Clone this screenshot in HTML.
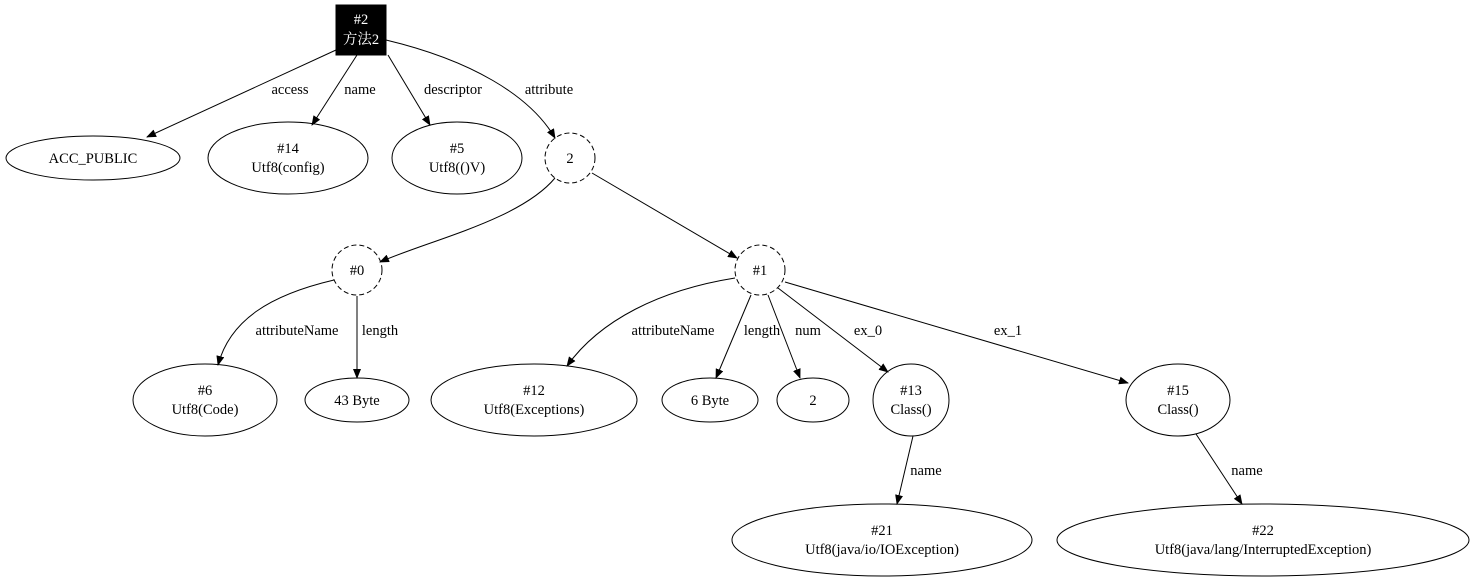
<!DOCTYPE html>
<html><head><meta charset="utf-8"><style>
html,body{margin:0;padding:0;background:#fff;}
svg text{font-family:"Liberation Serif","Noto Serif CJK SC",serif;font-size:14.5px;fill:#000;}
</style></head><body>
<svg width="1473" height="582" viewBox="0 0 1473 582" xmlns="http://www.w3.org/2000/svg">
<defs><marker id="a" markerWidth="10" markerHeight="8" refX="9" refY="4" orient="auto" markerUnits="userSpaceOnUse"><path d="M0,0 L10,4 L0,8 Z" fill="#000"/></marker></defs>
<g fill="none" stroke="#000" stroke-width="1">
<rect x="336" y="5" width="50" height="50" fill="#000"/>
<ellipse cx="93" cy="158" rx="87" ry="22"/>
<ellipse cx="288" cy="158" rx="80" ry="36"/>
<ellipse cx="457" cy="158" rx="65" ry="36"/>
<circle cx="570" cy="158" r="25" stroke-dasharray="5,3"/>
<circle cx="357" cy="270" r="25" stroke-dasharray="5,3"/>
<circle cx="760" cy="270" r="25" stroke-dasharray="5,3"/>
<ellipse cx="205" cy="400" rx="72" ry="36"/>
<ellipse cx="357" cy="400" rx="52" ry="22"/>
<ellipse cx="534" cy="400" rx="103" ry="36"/>
<ellipse cx="710" cy="400" rx="48" ry="22"/>
<ellipse cx="813" cy="400" rx="36" ry="22"/>
<ellipse cx="911" cy="400" rx="38" ry="36"/>
<ellipse cx="1178" cy="400" rx="52" ry="36"/>
<ellipse cx="882" cy="540" rx="150" ry="36"/>
<ellipse cx="1263" cy="540" rx="206" ry="36"/>
<g marker-end="url(#a)">
<path d="M336,50 L147,137"/>
<path d="M357,55 L312,125"/>
<path d="M388,55 L430,125"/>
<path d="M386,40 C470,60 530,95 555,138"/>
<path d="M555,178 C520,220 430,240 380,262"/>
<path d="M592,173 L737,258"/>
<path d="M334,280 C270,295 230,320 218,365"/>
<path d="M357,296 L357,378"/>
<path d="M735,278 C660,290 600,320 567,366"/>
<path d="M751,295 L716,378"/>
<path d="M768,295 L800,378"/>
<path d="M778,288 L888,372"/>
<path d="M785,282 L1128,383"/>
<path d="M913,436 L897,504"/>
<path d="M1196,434 L1242,504"/>
</g>
</g>
<g text-anchor="middle">
<text x="361" y="24" style="fill:#fff">#2</text>
<text x="361" y="44" style="fill:#fff">方法2</text>
<text x="93" y="163">ACC_PUBLIC</text>
<text x="288" y="153">#14</text><text x="288" y="172">Utf8(config)</text>
<text x="457" y="153">#5</text><text x="457" y="172">Utf8(()V)</text>
<text x="570" y="163">2</text>
<text x="357" y="275">#0</text>
<text x="760" y="275">#1</text>
<text x="205" y="395">#6</text><text x="205" y="414">Utf8(Code)</text>
<text x="357" y="405">43 Byte</text>
<text x="534" y="395">#12</text><text x="534" y="414">Utf8(Exceptions)</text>
<text x="710" y="405">6 Byte</text>
<text x="813" y="405">2</text>
<text x="911" y="395">#13</text><text x="911" y="414">Class()</text>
<text x="1178" y="395">#15</text><text x="1178" y="414">Class()</text>
<text x="882" y="535">#21</text><text x="882" y="554">Utf8(java/io/IOException)</text>
<text x="1263" y="535">#22</text><text x="1263" y="554">Utf8(java/lang/InterruptedException)</text>
<text x="290" y="94">access</text>
<text x="360" y="94">name</text>
<text x="453" y="94">descriptor</text>
<text x="549" y="94">attribute</text>
<text x="297" y="335">attributeName</text>
<text x="380" y="335">length</text>
<text x="673" y="335">attributeName</text>
<text x="762" y="335">length</text>
<text x="808" y="335">num</text>
<text x="868" y="335">ex_0</text>
<text x="1008" y="335">ex_1</text>
<text x="926" y="475">name</text>
<text x="1247" y="475">name</text>
</g>
</svg>
</body></html>
